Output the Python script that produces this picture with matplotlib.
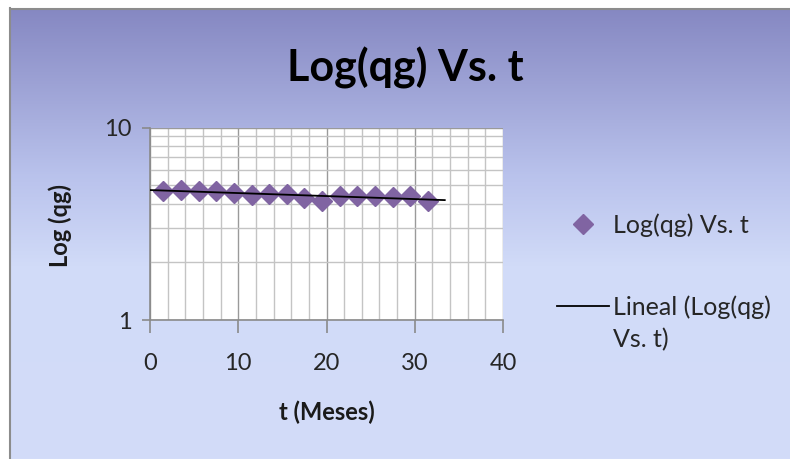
import matplotlib.pyplot as plt
import numpy as np
from matplotlib.colors import LinearSegmentedColormap
from matplotlib.ticker import FixedLocator, LogLocator, NullFormatter

plt.rcParams['font.family'] = ['Lato', 'DejaVu Sans']

# data
t_meses = [1.5, 3.5, 5.5, 7.5, 9.5, 11.5, 13.5, 15.5, 17.5, 19.5,
           21.5, 23.5, 25.5, 27.5, 29.5, 31.5]
qg = [4.70, 4.75, 4.66, 4.66, 4.57, 4.48, 4.53, 4.53, 4.30, 4.13,
      4.42, 4.42, 4.39, 4.35, 4.39, 4.13]
trend_range = [0, 33.4]
x_ticks = [0, 10, 20, 30, 40]
y_ticks = [1, 10]

fig = plt.figure(figsize=(7.9, 4.59), dpi=100)

# gradient background
bg = fig.add_axes([0, 0, 1, 1], zorder=-10)
cmap = LinearSegmentedColormap.from_list(
    'bg', [(0, '#d3dcf9'), (0.42, '#d1dbf8'), (0.62, '#b9c2ec'), (1, '#8385c0')])
grad = np.linspace(0, 1, 256).reshape(-1, 1)
bg.imshow(grad, aspect='auto', cmap=cmap, origin='lower', extent=[0, 1, 0, 1])
# white margin and grey frame at top and left
bg.axvspan(0, 0.012, color='white')
bg.axhspan(0.982, 1, color='white')
bg.plot([0.013, 0.013], [0, 0.982], color='#8c8c8c', lw=1.5)
bg.plot([0.013, 1], [0.981, 0.981], color='#8c8c8c', lw=1.5)
bg.set_xlim(0, 1)
bg.set_ylim(0, 1)
bg.axis('off')

ax = fig.add_axes([0.1899, 0.3028, 0.4468, 0.4194])
ax.set_facecolor('white')
ax.set_yscale('log')
ax.set_xlim(0, 40)
ax.set_ylim(1, 10)

ax.plot(t_meses, qg, linestyle='none', marker='D', markersize=10,
        color='#8064a2', label='Log(qg) Vs. t', zorder=3)

# exponential trend line (Excel "Lineal" on log axis)
coef = np.polyfit(t_meses, np.log(qg), 1)
tt = np.array(trend_range)
ax.plot(tt, np.exp(np.polyval(coef, tt)), color='black', lw=1.3,
        label='Lineal (Log(qg)', zorder=4)

ax.xaxis.set_major_locator(FixedLocator(x_ticks))
ax.xaxis.set_minor_locator(FixedLocator(np.arange(0, 41, 2)))
ax.yaxis.set_major_locator(FixedLocator(y_ticks))
ax.yaxis.set_minor_locator(LogLocator(base=10, subs=np.arange(2, 10)))
ax.yaxis.set_minor_formatter(NullFormatter())
ax.set_yticklabels(['1', '10'])

ax.grid(which='major', color='#9a9a9a', lw=1)
ax.grid(which='minor', color='#c4c4c4', lw=1)
ax.set_axisbelow(True)

for s in ['top', 'right']:
    ax.spines[s].set_visible(False)
for s in ['left', 'bottom']:
    ax.spines[s].set_color('#8a8a8a')
    ax.spines[s].set_linewidth(1.2)
ax.tick_params(which='major', colors='#8a8a8a', width=1.2,
               labelcolor='#262626', labelsize=17)
ax.tick_params(axis='x', length=9, pad=15)
ax.tick_params(axis='y', length=6, pad=7)
ax.tick_params(which='minor', length=0)

ax.set_xlabel('t (Meses)', fontsize=17, fontweight='bold', color='#1a1a1a')
ax.set_ylabel('Log (qg)', fontsize=17, fontweight='bold', color='#1a1a1a')
ax.xaxis.set_label_coords(0.5, -0.42)
ax.yaxis.set_label_coords(-0.22, 0.49)

fig.text(0.513, 0.852, 'Log(qg) Vs. t', ha='center', va='center',
         fontsize=31, fontweight='bold', color='black')

leg = ax.legend(loc='center left', bbox_to_anchor=(0.6765, 0.42),
                bbox_transform=fig.transFigure, frameon=False, fontsize=18,
                labelspacing=2.32, handlelength=2.1, handletextpad=0.15,
                labelcolor='#262626')

# second line of the trend-line label, under the legend text
fig.canvas.draw()
bb = leg.get_texts()[1].get_window_extent().transformed(fig.transFigure.inverted())
fig.text(bb.x0, bb.y0 - 0.07, 'Vs. t)', fontsize=18, color='#262626',
         ha='left', va='bottom')

fig.savefig('out.png', dpi=100)
